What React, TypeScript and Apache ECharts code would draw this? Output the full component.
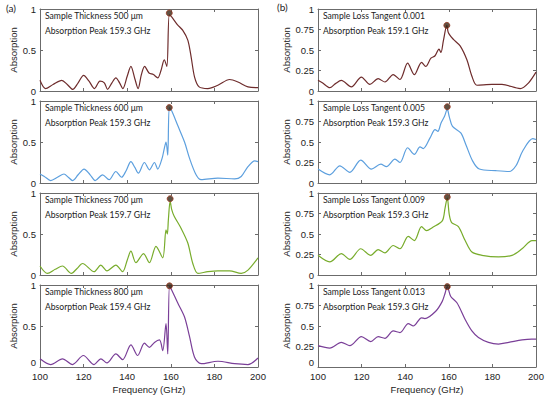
import React, { useEffect, useRef } from "react";
import * as echarts from "echarts";

// Frequency (GHz) vs absorption, panel (a): sample thickness
const thick500: number[][] = [[100,0.13],[102.5,0.03],[106,0.08],[110,0.13],[112.5,0.08],[115,0.02],[117.5,0.1],[120,0.19],[122.5,0.12],[125,0.03],[127.5,0.12],[129.5,0.1],[131,0.02],[133,0.1],[134.8,0.16],[136.5,0.1],[138,0.03],[140,0.18],[141.7,0.3],[143.5,0.15],[145,0.03],[146.5,0.2],[148,0.3],[150,0.22],[152,0.2],[154,0.16],[155.5,0.25],[157,0.38],[158.2,0.3],[159.3,0.93],[160.5,0.9],[163,0.81],[165.5,0.74],[167.8,0.62],[169.3,0.42],[170.9,0.17],[173,0.05],[177,0.03],[181.6,0.07],[187,0.14],[190.8,0.11],[195.4,0.05],[200,0.04]];
const thick600: number[][] = [[100,0.11],[102,0.08],[104.9,0.03],[108,0.07],[111,0.11],[113,0.07],[114.9,0.03],[117.5,0.1],[120.2,0.17],[123,0.1],[125.3,0.03],[128.7,0.1],[131.7,0.04],[134.8,0.14],[137.4,0.07],[139.5,0.15],[141.7,0.26],[143.5,0.19],[145.1,0.12],[147.9,0.25],[150.2,0.16],[152.5,0.25],[154,0.17],[156,0.3],[157,0.42],[157.8,0.5],[158.6,0.34],[159.3,0.92],[160.4,0.88],[163.2,0.7],[166.3,0.5],[168.6,0.3],[171.6,0.1],[173.9,0.04],[181.6,0.06],[189.3,0.05],[192.3,0.08],[195.4,0.2],[198.5,0.27],[200,0.26]];
const thick700: number[][] = [[100,0.11],[103.4,0.02],[107,0.07],[110.3,0.11],[114.4,0.02],[117,0.08],[119.5,0.14],[124.8,0.04],[127.9,0.12],[130.7,0.05],[134.8,0.12],[137.9,0.04],[140,0.18],[141.7,0.29],[144,0.15],[147.5,0.26],[150.2,0.15],[153.2,0.35],[156.3,0.21],[157.8,0.55],[158.4,0.5],[158.9,0.68],[159.7,0.9],[160.4,0.8],[161.5,0.72],[164.7,0.57],[167.8,0.39],[170.1,0.14],[172.4,0.02],[177,0.04],[181.6,0.05],[187,0.05],[192.3,0.02],[195.4,0.06],[200,0.21]];
const thick800: number[][] = [[100,0.1],[104.9,0.03],[110.3,0.1],[114.9,0.03],[119.9,0.14],[124.8,0.03],[127.9,0.1],[130.7,0.05],[134.8,0.16],[137.9,0.09],[141.7,0.27],[144.8,0.14],[147.9,0.29],[150.2,0.24],[152.5,0.3],[154.8,0.33],[156.3,0.2],[157.8,0.53],[158.6,0.16],[159.4,0.99],[160.4,0.94],[163.2,0.78],[166.3,0.61],[168.6,0.37],[170.9,0.12],[173.9,0.04],[181.6,0.07],[189.3,0.04],[195.4,0.03],[200,0.11]];

// Panel (b): loss tangent
const tan001: number[][] = [[100,0.13],[102,0.1],[105.4,0.04],[108,0.09],[110.7,0.13],[115.3,0.05],[119.9,0.17],[123.8,0.08],[127.6,0.15],[130.7,0.11],[134.5,0.2],[137.6,0.14],[141.1,0.34],[144.2,0.2],[147.5,0.35],[149.4,0.3],[151.8,0.4],[153.7,0.43],[155.5,0.51],[156.4,0.47],[157.5,0.61],[159.1,0.8],[159.8,0.71],[162.1,0.63],[165.2,0.55],[168.3,0.38],[170.6,0.18],[172.9,0.07],[179.8,0.08],[184.4,0.08],[192.8,0.03],[196.6,0.1],[200,0.23]];
const tan005: number[][] = [[100,0.17],[105.4,0.1],[110,0.21],[114.6,0.13],[119.6,0.28],[124.5,0.17],[128.8,0.23],[131.4,0.2],[135.3,0.29],[137.6,0.25],[141.1,0.43],[144.2,0.35],[146.8,0.44],[148.3,0.42],[151.4,0.55],[153.7,0.65],[155,0.63],[156.4,0.73],[158,0.81],[159.3,0.9],[160.2,0.81],[161.7,0.69],[165.5,0.61],[167.8,0.47],[170.9,0.27],[174,0.17],[181.6,0.15],[187.7,0.14],[190.8,0.21],[193.9,0.39],[198.5,0.54],[200,0.53]];
const tan009: number[][] = [[100,0.24],[105.4,0.16],[110.7,0.26],[114.6,0.19],[119.6,0.32],[124.2,0.24],[127.6,0.31],[130.7,0.27],[134.5,0.36],[137.6,0.32],[141.4,0.47],[144.2,0.42],[147.5,0.59],[149.8,0.54],[152.5,0.58],[157,0.66],[158.3,0.82],[159.3,0.94],[160.2,0.74],[161.3,0.64],[164.4,0.59],[167.5,0.42],[170.6,0.28],[175.2,0.24],[182.8,0.22],[189,0.24],[193.6,0.32],[198.2,0.42],[200,0.42]];
const tan013: number[][] = [[100,0.26],[105.4,0.23],[110.7,0.3],[114.6,0.26],[119.9,0.37],[124.2,0.31],[127.6,0.37],[130.7,0.35],[134.5,0.44],[137.6,0.42],[141.4,0.53],[143.7,0.5],[147.5,0.6],[149,0.59],[154,0.68],[157,0.8],[158.3,0.9],[159.3,0.98],[160.9,0.86],[163.8,0.78],[167.5,0.58],[170.6,0.44],[173.6,0.36],[178.2,0.3],[182.8,0.28],[187.5,0.3],[193.6,0.33],[198,0.34],[200,0.34]];

const peaks: number[][] = [[159.3,0.95],[159.3,0.92],[159.7,0.93],[159.4,0.99],[159.1,0.8],[159.3,0.93],[159.3,0.95],[159.3,0.98]];
const lineTitles: string[] = ["Sample Thickness 500 μm","Sample Thickness 600 μm","Sample Thickness 700 μm","Sample Thickness 800 μm","Sample Loss Tangent 0.001","Sample Loss Tangent 0.005","Sample Loss Tangent 0.009","Sample Loss Tangent 0.013"];
const peakTitles: string[] = ["Absorption Peak 159.3 GHz","Absorption Peak 159.3 GHz","Absorption Peak 159.7 GHz","Absorption Peak 159.4 GHz","Absorption Peak 159.1 GHz","Absorption Peak 159.3 GHz","Absorption Peak 159.3 GHz","Absorption Peak 159.3 GHz"];
const panelData = [thick500, thick600, thick700, thick800, tan001, tan005, tan009, tan013];
const colors = ["#6e2c2c", "#5c9fde", "#78ac2c", "#7a3f98", "#6e2c2c", "#5c9fde", "#78ac2c", "#7a3f98"];
const xTicks = { min: 100, max: 200, interval: 20 };

const tickFont = "'Liberation Sans', Arial, sans-serif";
const annFont = "Lato, 'Open Sans', sans-serif";

export default function App() {
  const ref = useRef<HTMLDivElement>(null);
  useEffect(() => {
    if (!ref.current) return;
    const chart = echarts.init(ref.current, undefined, { renderer: "svg" });
    const tops = [9, 101, 193, 285];
    const grids: any[] = [];
    const xAxes: any[] = [];
    const yAxes: any[] = [];
    const series: any[] = [];
    const graphics: any[] = [];
    const axisColor = "#6b6b6b";
    for (let i = 0; i < 8; i++) {
      const col = i < 4 ? 0 : 1;
      const row = i % 4;
      const left = col === 0 ? 40 : 318;
      const top = tops[row];
      grids.push({ left, top, width: 218, height: 82 });
      const bottomRow = row === 3;
      const baseX = {
        type: "value", gridIndex: i, min: xTicks.min, max: xTicks.max, interval: xTicks.interval,
        axisLine: { show: true, onZero: false, lineStyle: { color: axisColor, width: 1 } },
        axisTick: { show: true, inside: true, length: 3, lineStyle: { color: axisColor } },
        splitLine: { show: false },
      };
      xAxes.push({
        ...baseX, position: "bottom",
        axisLabel: { show: bottomRow, color: "#222", fontSize: 9.5, fontFamily: tickFont, margin: 4 },
        name: bottomRow ? "Frequency (GHz)" : "", nameLocation: "middle", nameGap: 17,
        nameTextStyle: { color: "#222", fontSize: 9.5, fontFamily: tickFont },
      });
      xAxes.push({ ...baseX, position: "top", axisLabel: { show: false } });
      const yInt = col === 0 ? 0.5 : 0.25;
      const baseY = {
        type: "value", gridIndex: i, min: 0, max: 1, interval: yInt,
        axisLine: { show: true, onZero: false, lineStyle: { color: axisColor, width: 1 } },
        axisTick: { show: true, inside: true, length: 3, lineStyle: { color: axisColor } },
        splitLine: { show: false },
      };
      yAxes.push({
        ...baseY, position: "left",
        axisLabel: {
          show: true, color: "#222", fontSize: 9.5, fontFamily: tickFont, margin: 4,
          verticalAlignMinLabel: bottomRow ? "bottom" : "middle",
        },
        name: "Absorption", nameLocation: "middle", nameGap: col === 0 ? 22 : 23,
        nameTextStyle: { color: "#222", fontSize: 9.5, fontFamily: tickFont },
      });
      yAxes.push({ ...baseY, position: "right", axisLabel: { show: false } });
      series.push({
        type: "line", xAxisIndex: 2 * i, yAxisIndex: 2 * i, data: panelData[i], smooth: 0.3,
        showSymbol: false, lineStyle: { color: colors[i], width: 1.2 }, itemStyle: { color: colors[i] },
        z: 2,
      });
      series.push({
        type: "scatter", xAxisIndex: 2 * i, yAxisIndex: 2 * i, data: [peaks[i]], symbolSize: 6,
        itemStyle: { color: "#3a2614", borderColor: "#9a3a22", borderWidth: 1 }, z: 3,
      });
      graphics.push({ type: "text", left: left + 5, top: top + 2, style: { text: lineTitles[i], fill: "#222", fontSize: 8.6, fontFamily: annFont } });
      graphics.push({ type: "text", left: left + 5, top: top + 17, style: { text: peakTitles[i], fill: "#222", fontSize: 8.6, fontFamily: annFont } });
    }
    graphics.push({ type: "text", left: 6, top: 3, style: { text: "(a)", fill: "#222", fontSize: 10, fontFamily: annFont } });
    graphics.push({ type: "text", left: 277, top: 2, style: { text: "(b)", fill: "#222", fontSize: 10, fontFamily: annFont } });
    chart.setOption({
      animation: false,
      backgroundColor: "#ffffff",
      grid: grids,
      xAxis: xAxes,
      yAxis: yAxes,
      series,
      graphic: graphics,
    });
    return () => chart.dispose();
  }, []);
  return <div ref={ref} style={{ width: 550, height: 398, position: "absolute", left: 0, top: 0 }} />;
}
